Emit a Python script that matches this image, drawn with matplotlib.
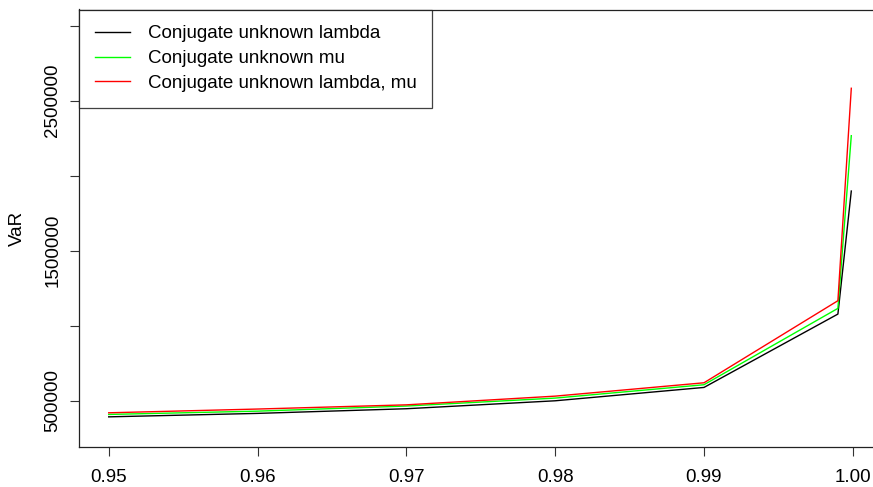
import matplotlib
matplotlib.use('Agg')
import matplotlib.pyplot as plt
import numpy as np

plt.rcParams['font.family'] = ['Liberation Sans', 'DejaVu Sans']

# confidence levels and VaR estimates for each conjugate model
levels = [0.95, 0.96, 0.97, 0.98, 0.99, 0.999, 0.9999]
var_lambda = [393000, 416000, 447000, 500000, 589000, 1078000, 1898000]
var_mu = [409000, 431000, 465000, 518000, 607000, 1116000, 2267000]
var_lambda_mu = [420000, 445000, 473000, 531000, 620000, 1167000, 2583000]

series_names = ['Conjugate unknown lambda', 'Conjugate unknown mu', 'Conjugate unknown lambda, mu']
series_colors = ['black', '#00ff00', '#ff0000']

x_ticks = [0.95, 0.96, 0.97, 0.98, 0.99, 1.00]
y_ticks = [500000, 1000000, 1500000, 2000000, 2500000, 3000000]
y_labels = ['500000', '', '1500000', '', '2500000', '']

FS = 13.5

fig = plt.figure(figsize=(8.73, 4.87), dpi=100)
ax = fig.add_axes([79 / 873, 1 - 447 / 487, 802 / 873, 437.5 / 487])

for vals, name, color in zip([var_lambda, var_mu, var_lambda_mu], series_names, series_colors):
    ax.plot(levels, vals, color=color, lw=1.0, label=name)

# R-style axis padding of 4% around the data / ylim
x0, x1 = min(levels), max(levels)
dx = (x1 - x0) * 0.04
ax.set_xlim(x0 - dx, x1 + dx)
y0, y1 = 300000, 3000000
dy = (y1 - y0) * 0.04
ax.set_ylim(y0 - dy, y1 + dy)

ax.set_xticks(x_ticks)
ax.set_xticklabels([f'{t:.2f}' for t in x_ticks])
ax.set_yticks(y_ticks)
ax.set_yticklabels(y_labels, rotation=90, va='center')
ax.tick_params(axis='both', length=6.7, width=0.8, labelsize=FS, color='#333333')
ax.tick_params(axis='x', pad=9)
ax.tick_params(axis='y', pad=6)

for spine in ax.spines.values():
    spine.set_linewidth(0.9)
    spine.set_color('#222222')
ax.spines['right'].set_visible(False)

ax.set_ylabel('VaR', fontsize=FS)
ax.yaxis.set_label_coords(-0.066, 0.5)

leg = ax.legend(loc='upper left', fontsize=FS, frameon=True, fancybox=False,
                borderaxespad=0, handlelength=1.87, handletextpad=0.96,
                labelspacing=0.41, borderpad=0.84)
leg.get_frame().set_edgecolor('#111111')
leg.get_frame().set_linewidth(0.9)
for line in leg.get_lines():
    line.set_linewidth(1.0)

fig.savefig('out.png', dpi=100)
